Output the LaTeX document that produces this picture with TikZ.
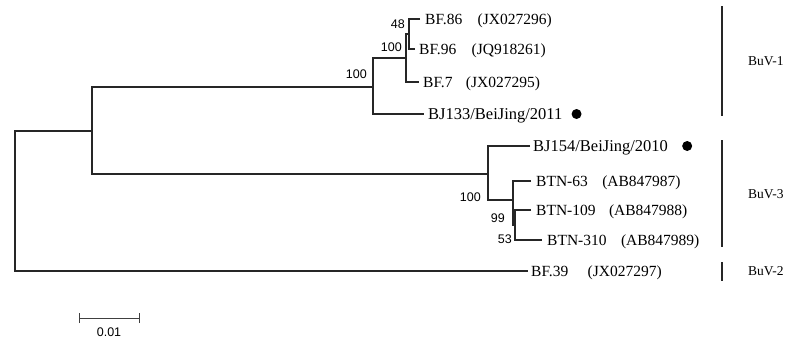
\documentclass[tikz,border=0pt]{standalone}
\usepackage{fontspec}
\setmainfont{Liberation Serif}
\newfontfamily\bsfont{Liberation Sans}
\begin{document}
\begin{tikzpicture}[x=1pt,y=-1pt,
  br/.style={line width=1.1pt, draw=black!85},
  leaf/.style={anchor=west, inner sep=0pt, text height=10pt, text depth=0pt, font=\fontsize{15.5}{18}\selectfont},
  bjleaf/.style={anchor=west, inner sep=0pt, text height=10pt, text depth=0pt, font=\fontsize{16.5}{19}\selectfont},
  acc/.style={anchor=west, inner sep=0pt, text height=10pt, text depth=0pt, font=\fontsize{15.5}{18}\selectfont},
  boot/.style={anchor=east, inner sep=0pt, font=\bsfont\fontsize{12.5}{14}\selectfont},
  grp/.style={anchor=west, inner sep=0pt, font=\fontsize{13.5}{15}\selectfont},
  gbar/.style={line width=1.6pt, draw=black!85},
  dotm/.style={circle, fill=black, inner sep=0pt, minimum size=10pt}]
\useasboundingbox (0,0) rectangle (795,340);
% internal nodes
\coordinate (r) at (15,200);
\coordinate (u) at (92,131);
\coordinate (c1) at (373,87);
\coordinate (a) at (406,58);
\coordinate (b) at (409,34);
\coordinate (c3) at (488,174);
\coordinate (d) at (513,200);
\coordinate (e) at (515,225);
% leaf ends
\coordinate (l86) at (420,19);
\coordinate (l96) at (415,49);
\coordinate (l7) at (419,82);
\coordinate (l133) at (424,114);
\coordinate (l154) at (530,146);
\coordinate (l63) at (531,181);
\coordinate (l109) at (531,210);
\coordinate (l310) at (542,240);
\coordinate (l39) at (528,271);
% branches
\draw[br] (u) -| (r) |- (l39);
\draw[br] (c1) -| (u) |- (c3);
\draw[br] (a) -| (c1) |- (l133);
\draw[br] (b) -| (a) |- (l7);
\draw[br] (l86) -| (b) |- (l96);
\draw[br] (l154) -| (c3) |- (d);
\draw[br] (l63) -| (d) |- (e);
\draw[br] (l109) -| (e) |- (l310);
% leaf labels
\node[leaf] (t86) at ([xshift=5]l86) {BF.86};
\node[acc] (a86) at ([xshift=15]t86.east) {(JX027296)};
\node[leaf] (t96) at ([xshift=4]l96) {BF.96};
\node[acc] (a96) at ([xshift=15]t96.east) {(JQ918261)};
\node[leaf] (t7) at ([xshift=4]l7) {BF.7};
\node[acc] (a7) at ([xshift=13]t7.east) {(JX027295)};
\node[bjleaf] (t133) at ([xshift=4]l133) {BJ133/BeiJing/2011};
\node[dotm] (d133) at ([xshift=14]t133.east) {};
\node[bjleaf] (t154) at ([xshift=3]l154) {BJ154/BeiJing/2010};
\node[dotm] (d154) at ([xshift=19]t154.east) {};
\node[leaf] (t63) at ([xshift=5]l63) {BTN-63};
\node[acc] (a63) at ([xshift=14]t63.east) {(AB847987)};
\node[leaf] (t109) at ([xshift=5]l109) {BTN-109};
\node[acc] (a109) at ([xshift=13]t109.east) {(AB847988)};
\node[leaf] (t310) at ([xshift=5]l310) {BTN-310};
\node[acc] (a310) at ([xshift=14]t310.east) {(AB847989)};
\node[leaf] (t39) at ([xshift=3]l39) {BF.39};
\node[acc] (a39) at ([xshift=19]t39.east) {(JX027297)};
% bootstrap values
\node[boot] (bs48) at (405,24) {48};
\node[boot] (bsa) at (402,47) {100};
\node[boot] (bsc1) at (367,74) {100};
\node[boot] (bsc3) at (481,197) {100};
\node[boot] (bsd) at (505,218) {99};
\node[boot] (bse) at (512,239) {53};
% group bars
\coordinate (g1t) at (722,6);
\coordinate (g1b) at (722,116);
\coordinate (g3t) at (722,140);
\coordinate (g3b) at (722,247);
\coordinate (g2t) at (722,262);
\coordinate (g2b) at (722,281);
\draw[gbar] (g1t) -- (g1b);
\draw[gbar] (g3t) -- (g3b);
\draw[gbar] (g2t) -- (g2b);
\node[grp] (n1) at (748,61) {BuV-1};
\node[grp] (n3) at (748,194) {BuV-3};
\node[grp] (n2) at (748,271) {BuV-2};
% scale bar
\coordinate (s1) at (79,318);
\coordinate (s2) at (139,318);
\draw[line width=1pt, draw=black!75] (s1) -- (s2);
\draw[line width=1pt, draw=black!75] ([yshift=-5]s1) -- ([yshift=5]s1);
\draw[line width=1pt, draw=black!75] ([yshift=-5]s2) -- ([yshift=5]s2);
\node[font=\bsfont\fontsize{12.5}{14}\selectfont, inner sep=0pt] (sl) at (109,332) {0.01};
\end{tikzpicture}
\end{document}
